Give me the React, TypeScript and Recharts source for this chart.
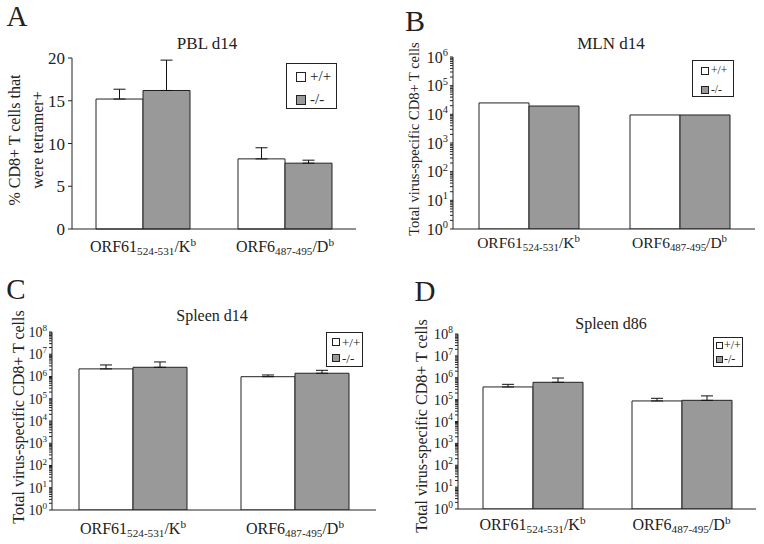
import React from "react";
import { BarChart, Bar, XAxis, YAxis, ErrorBar, Legend } from "recharts";

const SERIF = '"Liberation Serif", "Times New Roman", serif';
const INK = "#222";
const FRAME = "#9a9a9a";
const KO_FILL = "#999999";

// categories
const epitopeNames = ["ORF61", "ORF6"];
const epitopeRanges = ["524-531", "487-495"];
const mhcAlleles = ["K", "D"];
const mhcHaplotype = "b";
const genotypes = ["+/+", "-/-"];

// A: PBL d14, % of CD8+ T cells that were tetramer+
const pblWt = [15.2, 8.2];
const pblWtErr = [1.15, 1.3];
const pblKo = [16.2, 7.7];
const pblKoErr = [3.55, 0.35];
const pblTicks = [0, 5, 10, 15, 20];

// B: MLN d14, total virus-specific CD8+ T cells
const mlnWt = [25000, 9500];
const mlnKo = [19500, 9500];
const mlnExponents = [0, 1, 2, 3, 4, 5, 6];

// C: spleen d14
const spl14Wt = [2.2e6, 9.8e5];
const spl14WtErr = [1.1e6, 1.9e5];
const spl14Ko = [2.6e6, 1.4e6];
const spl14KoErr = [1.9e6, 5e5];

// D: spleen d86
const spl86Wt = [3.8e5, 8.7e4];
const spl86WtErr = [1.2e5, 2.8e4];
const spl86Ko = [6.2e5, 9.3e4];
const spl86KoErr = [3.5e5, 5.5e4];
const splExponents = [0, 1, 2, 3, 4, 5, 6, 7, 8];

const makeRows = (wt: number[], ko: number[], wtErr?: number[], koErr?: number[]) =>
  epitopeNames.map((name, i) => ({
    name,
    wt: wt[i],
    ko: ko[i],
    wtErr: wtErr ? [0, wtErr[i]] : [0, 0],
    koErr: koErr ? [0, koErr[i]] : [0, 0],
  }));

// major decades plus 2..9 minor marks
const logTicks = (exps: number[]) => {
  const out: number[] = [];
  exps.forEach((e, i) => {
    out.push(Math.pow(10, e));
    if (i < exps.length - 1) for (let m = 2; m <= 9; m++) out.push(m * Math.pow(10, e));
  });
  return out;
};

const EpitopeTick = (props: any) => {
  const { x, y, payload, fs, dy } = props;
  const i = epitopeNames.indexOf(payload.value);
  return (
    <text x={x} y={y + dy} textAnchor="middle" fontSize={fs} fill={INK} fontFamily={SERIF}>
      {payload.value}
      <tspan fontSize={fs * 0.7} dy={fs * 0.2}>{epitopeRanges[i]}</tspan>
      <tspan fontSize={fs} dy={-fs * 0.2}>/{mhcAlleles[i]}</tspan>
      <tspan fontSize={fs * 0.7} dy={-fs * 0.38}>{mhcHaplotype}</tspan>
    </text>
  );
};

const PowTick = (props: any) => {
  const { x, y, payload, fs } = props;
  const e = Math.log10(payload.value);
  if (Math.abs(e - Math.round(e)) > 1e-6) return <g />;
  return (
    <text x={x} y={y + fs * 0.35} textAnchor="end" fontSize={fs} fill={INK} fontFamily={SERIF}>
      10
      <tspan fontSize={fs * 0.65} dy={-fs * 0.42}>{Math.round(e)}</tspan>
    </text>
  );
};

const LegendBox = (props: any) => {
  const { payload, cfg } = props;
  return (
    <div
      style={{
        width: cfg.w,
        height: cfg.h,
        boxSizing: "border-box",
        border: `1.5px solid ${INK}`,
        background: "#fff",
        paddingTop: cfg.padTop,
        paddingLeft: cfg.padLeft,
        fontFamily: SERIF,
        fontSize: cfg.fs,
        color: INK,
      }}
    >
      {(payload || []).map((p: any, i: number) => (
        <div key={i} style={{ display: "flex", alignItems: "center", height: cfg.pitch, lineHeight: 1 }}>
          <span
            style={{
              display: "inline-block",
              width: cfg.sw,
              height: cfg.sw,
              boxSizing: "border-box",
              border: `1px solid ${INK}`,
              background: p.color,
              marginRight: cfg.gap,
            }}
          />
          <span>{p.value}</span>
        </div>
      ))}
    </div>
  );
};

type Panel = {
  left: number;
  top: number;
  margin: { top: number; right: number; bottom: number; left: number };
  barSize: number;
  xFs: number;
  xDy: number;
  yFs: number;
  rows: any[];
  log?: number[];
  linearTicks?: number[];
  errors: boolean;
  legend: any;
};

const PanelChart = ({ p }: { p: Panel }) => {
  const yProps: any = p.log
    ? {
        scale: "log",
        type: "number",
        domain: [Math.pow(10, p.log[0]), Math.pow(10, p.log[p.log.length - 1])],
        ticks: logTicks(p.log),
        tick: <PowTick fs={p.yFs} />,
        allowDataOverflow: true,
        tickSize: 3,
        tickMargin: 2,
      }
    : {
        type: "number",
        domain: [p.linearTicks![0], p.linearTicks![p.linearTicks!.length - 1]],
        ticks: p.linearTicks,
        tick: { fontSize: p.yFs, fill: INK, fontFamily: SERIF },
        tickSize: 4,
        tickMargin: 3,
      };
  return (
    <div style={{ position: "absolute", left: p.left, top: p.top }}>
      <BarChart width={382} height={272} data={p.rows} margin={p.margin} barGap={0}>
        <XAxis
          dataKey="name"
          interval={0}
          height={30}
          tickSize={0}
          tickMargin={0}
          tickLine={false}
          axisLine={{ stroke: INK }}
          tick={<EpitopeTick fs={p.xFs} dy={p.xDy} />}
        />
        <XAxis xAxisId="top" orientation="top" height={0} tick={false} tickLine={false} axisLine={{ stroke: FRAME }} />
        <YAxis width={50} interval={0} axisLine={{ stroke: INK }} tickLine={{ stroke: INK }} {...yProps} />
        <YAxis
          yAxisId="right"
          orientation="right"
          width={0}
          type="number"
          domain={[0, 1]}
          tick={false}
          tickLine={false}
          axisLine={{ stroke: FRAME }}
        />
        <Legend
          layout="vertical"
          align="center"
          verticalAlign="middle"
          wrapperStyle={{ left: p.legend.x, top: p.legend.y, width: p.legend.w, height: p.legend.h }}
          content={(lp: any) => <LegendBox payload={lp.payload} cfg={p.legend} />}
        />
        <Bar dataKey="wt" name={genotypes[0]} fill="#ffffff" stroke={INK} strokeWidth={1} barSize={p.barSize} isAnimationActive={false}>
          {p.errors && <ErrorBar dataKey="wtErr" width={6} stroke="#111" strokeWidth={1} direction="y" isAnimationActive={false} />}
        </Bar>
        <Bar dataKey="ko" name={genotypes[1]} fill={KO_FILL} stroke={INK} strokeWidth={1} barSize={p.barSize} isAnimationActive={false}>
          {p.errors && <ErrorBar dataKey="koErr" width={6} stroke="#111" strokeWidth={1} direction="y" isAnimationActive={false} />}
        </Bar>
      </BarChart>
    </div>
  );
};

const panels: Panel[] = [
  {
    left: 0,
    top: 0,
    margin: { top: 58, right: 26, bottom: 13, left: 22 },
    barSize: 47,
    xFs: 16,
    xDy: 23,
    yFs: 17,
    rows: makeRows(pblWt, pblKo, pblWtErr, pblKoErr),
    linearTicks: pblTicks,
    errors: true,
    legend: { x: 286, y: 63, w: 51, h: 46, sw: 10, pitch: 23, padTop: 1, padLeft: 9, gap: 4, fs: 15 },
  },
  {
    left: 382,
    top: 0,
    margin: { top: 57, right: 9, bottom: 13, left: 21 },
    barSize: 50,
    xFs: 15.5,
    xDy: 19,
    yFs: 16,
    rows: makeRows(mlnWt, mlnKo),
    log: mlnExponents,
    errors: false,
    legend: { x: 310, y: 60, w: 42, h: 37, sw: 8, pitch: 19, padTop: 0, padLeft: 8, gap: 2, fs: 11.5 },
  },
  {
    left: 0,
    top: 272,
    margin: { top: 60, right: 6, bottom: 4, left: 2 },
    barSize: 54,
    xFs: 16,
    xDy: 24,
    yFs: 14,
    rows: makeRows(spl14Wt, spl14Ko, spl14WtErr, spl14KoErr),
    log: splExponents,
    errors: true,
    legend: { x: 326, y: 60, w: 37, h: 35, sw: 8, pitch: 16, padTop: 1, padLeft: 5, gap: 2, fs: 13 },
  },
  {
    left: 382,
    top: 272,
    margin: { top: 62, right: 8, bottom: 5, left: 26 },
    barSize: 50,
    xFs: 16,
    xDy: 21,
    yFs: 14.5,
    rows: makeRows(spl86Wt, spl86Ko, spl86WtErr, spl86KoErr),
    log: splExponents,
    errors: true,
    legend: { x: 331, y: 65, w: 30, h: 30, sw: 7, pitch: 14, padTop: 0, padLeft: 2, gap: 1, fs: 12 },
  },
];

const Txt = ({ x, y, fs, rot, children }: any) => (
  <div
    style={{
      position: "absolute",
      left: x,
      top: y,
      fontSize: fs,
      lineHeight: 1,
      whiteSpace: "nowrap",
      color: INK,
      transform: `translate(-50%, -50%)${rot ? " rotate(-90deg)" : ""}`,
    }}
  >
    {children}
  </div>
);

const countLabel = "Total virus-specific CD8+ T cells";

export default function App() {
  return (
    <div style={{ position: "absolute", left: 0, top: 0, width: 764, height: 544, background: "#fff", fontFamily: SERIF, overflow: "hidden" }}>
      {panels.map((p, i) => (
        <PanelChart key={i} p={p} />
      ))}
      <Txt x={17} y={16} fs={29}>A</Txt>
      <Txt x={415} y={21} fs={30}>B</Txt>
      <Txt x={16} y={289} fs={29}>C</Txt>
      <Txt x={425} y={291} fs={29}>D</Txt>
      <Txt x={207} y={43} fs={17}>PBL d14</Txt>
      <Txt x={611} y={43} fs={17}>MLN d14</Txt>
      <Txt x={212} y={316} fs={16}>Spleen d14</Txt>
      <Txt x={611} y={324} fs={16}>Spleen d86</Txt>
      <Txt x={15} y={140} fs={16} rot>% CD8+ T cells that</Txt>
      <Txt x={38} y={140} fs={16} rot>were tetramer+</Txt>
      <Txt x={414} y={139} fs={14.5} rot>{countLabel}</Txt>
      <Txt x={19} y={417} fs={16} rot>{countLabel}</Txt>
      <Txt x={422} y={426} fs={16} rot>{countLabel}</Txt>
    </div>
  );
}
